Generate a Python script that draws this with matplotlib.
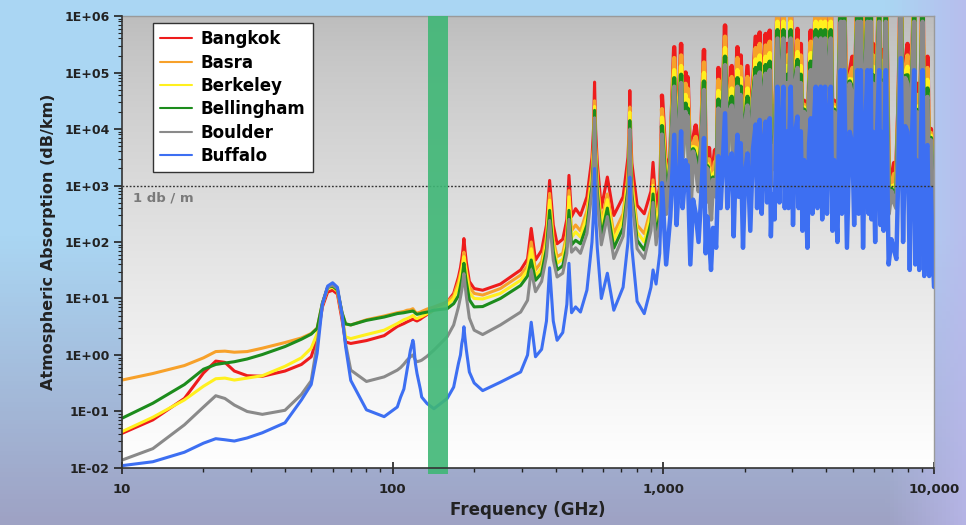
import numpy as np
import matplotlib
matplotlib.use("Agg")
import matplotlib.pyplot as plt
from matplotlib.ticker import FixedLocator, FuncFormatter, LogLocator, NullFormatter

# ---------------- data (dB/km) ----------------
cities = ["Bangkok", "Basra", "Berkeley", "Bellingham", "Boulder", "Buffalo"]
colors = ["#ee1c1c", "#f7a12a", "#fff01e", "#1c8c1c", "#8a8a8a", "#3d6ff2"]

# smooth part of the spectrum (10 - 1000 GHz)
low_freq_ghz = [10, 13, 17, 20, 22.2, 24, 26, 29, 33, 40, 46, 50, 52.6, 55, 57.5, 60, 62.5, 65, 67, 70,
                80, 93, 104, 107, 110, 113, 116.3, 118.75, 119.5, 121.3, 123, 126.5, 128, 134, 142, 159,
                168, 175, 178, 180, 181.7, 183.3, 185, 187, 192, 200, 215,
                250, 297, 315, 325, 337, 355, 370, 380, 392, 405, 425, 440, 448, 458, 474, 494, 522,
                545, 552, 557, 562, 570, 590, 621, 656, 710, 740, 746, 752, 758, 765, 800, 850, 900,
                916, 940, 970, 988]
bangkok_low = [0.041, 0.071, 0.17, 0.48, 0.78, 0.74, 0.52, 0.43, 0.42, 0.52, 0.68, 0.93, 2.0, 7.1, 13, 14, 12,
               4.2, 1.7, 1.6, 1.8, 2.2, 3.2, 3.4, 3.6, 3.85, 4.1, 4.3, 4.3, 4.1, 4.0, 4.3, 4.5, 5.2, 6.3,
               8.7, 12.3, 24, 35, 50, 71, 115, 71, 45, 20, 15, 14,
               18, 32, 50, 174, 48, 71, 200, 1230, 200, 93, 112, 251, 1510, 282, 389, 295, 631,
               3160, 10000, 67600, 10000, 2510, 398, 1410, 295, 631, 3160, 7940, 47900, 7940, 2510,
               447, 316, 794, 2570, 417, 1000, 38900]
basra_low = [0.36, 0.47, 0.65, 0.89, 1.15, 1.17, 1.12, 1.15, 1.32, 1.66, 2.0, 2.4, 3.0, 8.3, 15.8, 16.6, 14.1,
             5.6, 3.55, 3.4, 4.2, 4.9, 5.6, 5.75, 5.9, 6.2, 6.3, 6.6, 6.3, 5.75, 5.5, 5.75, 5.9, 6.5, 7.1,
             8.7, 11.2, 20, 28, 35, 48, 66, 45, 32, 16, 12.3, 11.5,
             15, 26, 38, 100, 32, 45, 126, 724, 112, 55, 63, 141, 813, 158, 200, 158, 355,
             1780, 5250, 31600, 5250, 1410, 224, 708, 141, 316, 1580, 3980, 24500, 3980, 1260,
             200, 141, 398, 1260, 224, 562, 22400]
berkeley_low = [0.044, 0.079, 0.16, 0.28, 0.38, 0.39, 0.36, 0.39, 0.43, 0.63, 0.89, 1.32, 2.4, 7.9, 15.1, 15.8,
                13.5, 5.0, 2.1, 1.95, 2.3, 2.75, 3.6, 3.9, 4.2, 4.4, 4.7, 5.0, 4.9, 4.5, 4.4, 4.7, 4.8, 5.4,
                6.2, 7.6, 10, 16.6, 24, 32, 42, 55, 40, 28, 12.6, 10, 9.8,
                12.3, 21, 32, 76, 25, 35, 100, 550, 89, 42, 50, 112, 631, 120, 151, 123,
                282, 1410, 4170, 25100, 4170, 1120, 178, 562, 107, 251, 1260, 3160, 20000, 3160, 1000,
                151, 100, 316, 1000, 178, 447, 15800]
bellingham_low = [0.076, 0.14, 0.30, 0.56, 0.68, 0.72, 0.76, 0.85, 1.02, 1.41, 1.9, 2.34, 2.95, 8.3, 15.8,
                  16.6, 14.1, 5.6, 3.55, 3.4, 4.1, 4.7, 5.4, 5.5, 5.6, 5.75, 5.9, 6.0, 5.9, 5.5, 5.25, 5.4,
                  5.5, 5.75, 6.2, 6.6, 8.1, 11.2, 16.6, 22, 30, 42, 29, 20, 9.5, 7.1, 7.2,
                  10, 17, 25, 48, 21, 28, 76, 363, 68, 32, 38, 83, 363, 89, 107, 93,
                  200, 1000, 3160, 21400, 3160, 794, 126, 398, 78, 178, 891, 2240, 14100, 2240, 708,
                  107, 72, 224, 708, 126, 316, 11200]
boulder_low = [0.0138, 0.022, 0.058, 0.12, 0.19, 0.17, 0.13, 0.10, 0.089, 0.105, 0.20, 0.35, 1.58, 7.9, 15.8,
               17.4, 14.8, 5.0, 1.58, 0.54, 0.34, 0.41, 0.54, 0.60, 0.69, 0.81, 0.93, 1.0, 0.95, 0.81, 0.76,
               0.79, 0.81, 0.95, 1.22, 2.1, 3.4, 7.1, 10.5, 14.1, 20, 27.5, 17.8, 11.2, 4.5, 2.75, 2.3,
               3.4, 5.75, 9.3, 32, 13.2, 20, 56, 240, 48, 24, 28, 63, 251, 66, 79, 63, 141,
               794, 2400, 15800, 2400, 562, 89, 282, 51, 126, 708, 1780, 10000, 1780, 562,
               76, 51, 158, 501, 89, 224, 7940]
buffalo_low = [0.011, 0.0129, 0.019, 0.0275, 0.033, 0.0316, 0.030, 0.034, 0.042, 0.063, 0.16, 0.30, 1.07, 7.9,
               16.6, 19, 15.8, 5.25, 1.41, 0.355, 0.107, 0.081, 0.12, 0.18, 0.25, 0.54, 1.22, 1.82, 1.58,
               0.71, 0.47, 0.25, 0.18, 0.138, 0.112, 0.17, 0.27, 0.71, 1.0, 1.58, 2.0, 3.16, 2.0, 1.26,
               0.50, 0.32, 0.234,
               0.33, 0.50, 1.0, 3.8, 0.93, 1.26, 4.0, 35, 4.0, 1.82, 2.5, 7.9, 42, 5.6, 7.1, 5.75, 14.1,
               100, 316, 2000, 316, 79, 10, 28, 6.2, 15.8, 100, 251, 1410, 251, 79,
               8.9, 5.4, 15.8, 32, 18, 63, 1100]

# dense water-vapour forest (1 - 10 THz): strong line tops
peak_freq_ghz = [1097, 1163, 1208, 1229, 1317, 1413, 1474, 1552, 1597, 1690,
                 1789, 1878, 1931, 2045, 2194, 2270, 2388, 2472, 2543, 2640,
                 2777, 2873, 2955, 3130, 3220, 3357, 3504, 3656, 3815, 3958,
                 4155, 4335, 4524, 4653, 4996, 5215, 5364, 5675, 5840, 5956,
                 6270, 6450, 6637, 7120, 7540, 7980, 8445, 8690, 9070, 9460, 9874]
bangkok_peaks = [2.8e5, 3.2e5, 1.0e5, 8.3e4, 1.15e4, 2.5e5, 4.6e3, 4.2e3, 1.2e5, 6.8e5,
                 1.3e5, 2.8e5, 2.0e5, 1.3e5, 4.3e5, 5.1e5, 4.8e5, 5.5e5, 2.5e4, 2.0e6,
                 2.0e6, 3.2e5, 2.0e6, 5.9e5, 3.2e5, 2.8e4, 5.5e5, 2.0e6, 2.0e6, 2.0e6,
                 2.0e6, 1.6e4, 4.0e6, 4.0e6, 1.9e5, 4.0e6, 4.0e6, 4.0e6, 4.0e6, 3.2e5,
                 4.0e6, 2.5e5, 4.0e6, 2.5e3, 6.3e6, 3.2e5, 4.0e6, 6.3e4, 4.0e6, 1.9e5, 3.2e3]
basra_peaks = [1.8e5, 2.0e5, 6.3e4, 5.2e4, 7.2e3, 1.5e5, 2.9e3, 2.6e3, 7.4e4, 4.3e5,
               8.3e4, 1.8e5, 1.26e5, 8.3e4, 2.7e5, 3.2e5, 3.0e5, 3.5e5, 1.55e4, 1.26e6,
               1.26e6, 2.0e5, 1.26e6, 3.7e5, 2.0e5, 1.8e4, 3.5e5, 1.26e6, 1.26e6, 1.26e6,
               1.26e6, 1.0e4, 2.5e6, 2.5e6, 1.2e5, 2.5e6, 2.5e6, 2.5e6, 2.5e6, 2.0e5,
               2.5e6, 1.6e5, 2.5e6, 1.6e3, 4.0e6, 2.0e5, 2.5e6, 4.0e4, 2.5e6, 1.2e5, 2.0e3]
berkeley_peaks = [1.1e5, 1.3e5, 4.0e4, 3.3e4, 4.6e3, 9.8e4, 1.8e3, 1.7e3, 4.7e4, 2.7e5,
                  5.2e4, 1.1e5, 7.9e4, 5.2e4, 1.7e5, 2.0e5, 1.9e5, 2.2e5, 9.8e3, 7.9e5,
                  7.9e5, 1.3e5, 7.9e5, 2.3e5, 1.3e5, 1.1e4, 2.2e5, 7.9e5, 7.9e5, 7.9e5,
                  7.9e5, 6.5e3, 1.6e6, 1.6e6, 7.4e4, 1.6e6, 1.6e6, 1.6e6, 1.6e6, 1.26e5,
                  1.6e6, 1.0e5, 1.6e6, 1.0e3, 2.5e6, 1.26e5, 1.6e6, 2.5e4, 1.6e6, 7.4e4, 1.26e3]
bellingham_peaks = [7.9e4, 9.1e4, 2.8e4, 2.3e4, 3.2e3, 6.9e4, 1.3e3, 1.2e3, 3.3e4, 1.9e5,
                    3.7e4, 7.9e4, 5.6e4, 3.7e4, 1.2e5, 1.45e5, 1.35e5, 1.55e5, 6.9e3, 5.6e5,
                    5.6e5, 9.1e4, 5.6e5, 1.66e5, 9.1e4, 7.9e3, 1.55e5, 5.6e5, 5.6e5, 5.6e5,
                    5.6e5, 4.6e3, 1.1e6, 1.1e6, 5.2e4, 1.1e6, 1.1e6, 1.1e6, 1.1e6, 8.9e4,
                    1.1e6, 7.1e4, 1.1e6, 710, 1.8e6, 8.9e4, 1.1e6, 1.8e4, 1.1e6, 5.2e4, 890]
boulder_peaks = [5.6e4, 6.5e4, 2.0e4, 1.7e4, 2.3e3, 4.9e4, 910, 830, 2.3e4, 1.35e5,
                 2.6e4, 5.6e4, 4.0e4, 2.6e4, 8.5e4, 1.0e5, 9.5e4, 1.1e5, 4.9e3, 4.0e5,
                 4.0e5, 6.5e4, 4.0e5, 1.2e5, 6.5e4, 5.6e3, 1.1e5, 4.0e5, 4.0e5, 4.0e5,
                 4.0e5, 3.2e3, 7.9e5, 7.9e5, 3.7e4, 7.9e5, 7.9e5, 7.9e5, 7.9e5, 6.3e4,
                 7.9e5, 5.0e4, 7.9e5, 500, 1.26e6, 6.3e4, 7.9e5, 1.26e4, 7.9e5, 3.7e4, 630]
buffalo_peaks = [7.9e3, 9.1e3, 2.8e3, 2.3e3, 320, 6.9e3, 130, 120, 3.3e3, 1.9e4,
                 3.7e3, 7.9e3, 5.6e3, 3.7e3, 1.2e4, 1.45e4, 1.35e4, 1.55e4, 690, 5.6e4,
                 5.6e4, 9.1e3, 5.6e4, 1.66e4, 9.1e3, 790, 1.55e4, 5.6e4, 5.6e4, 5.6e4,
                 5.6e4, 460, 1.1e5, 1.1e5, 5.2e3, 1.1e5, 1.1e5, 1.1e5, 1.1e5, 8.9e3,
                 1.1e5, 7.1e3, 1.1e5, 71, 1.8e5, 8.9e3, 1.1e5, 1.8e3, 1.1e5, 5.2e3, 89]

# dense forest: weaker lines lying between the strong ones
minor_freq_ghz = [1061, 1141, 1193, 1222, 1288, 1381, 1454, 1526, 1582, 1659,
                  1756, 1848, 1913, 2007, 2144, 2245, 2349, 2444, 2519, 2608,
                  2731, 2841, 2928, 3072, 3190, 3311, 3455, 3605, 3762, 3910,
                  4089, 4275, 4461, 4610, 4882, 5142, 5314, 5571, 5785, 5917,
                  6165, 6390, 6575, 6959, 7400, 7833, 8290, 8608, 8943, 9330, 9736]
bangkok_minor = [3160, 1.26e4, 1.0e4, 1.26e4, 6310, 7940, 3160, 2000, 5010, 3.16e4,
                 3.16e4, 2.0e4, 3.16e4, 2.0e4, 5.01e4, 6.31e4, 6.31e4, 6.31e4, 6310, 5.01e4,
                 1.26e5, 1.0e5, 1.26e5, 1.0e5, 1.0e5, 3.16e4, 6.31e4, 1.58e5, 1.58e5, 1.58e5,
                 1.58e5, 3.16e4, 1.26e5, 2.0e5, 1.0e5, 2.0e5, 2.0e5, 1.26e5, 2.0e5, 1.0e5,
                 1.26e5, 1.0e5, 1.26e5, 1260, 3.16e4, 1.26e5, 7.94e4, 3.16e4, 7.94e4, 5.01e4, 1.0e4]
basra_minor = [2690, 1.07e4, 8510, 1.07e4, 5370, 6760, 2690, 1700, 4270, 2.69e4,
               2.69e4, 1.7e4, 2.69e4, 1.7e4, 4.27e4, 5.37e4, 5.37e4, 5.37e4, 5370, 4.27e4,
               1.07e5, 8.51e4, 1.07e5, 8.51e4, 8.51e4, 2.69e4, 5.37e4, 1.35e5, 1.35e5, 1.35e5,
               1.35e5, 2.69e4, 1.07e5, 1.7e5, 8.51e4, 1.7e5, 1.7e5, 1.07e5, 1.7e5, 8.51e4,
               1.07e5, 8.51e4, 1.07e5, 1070, 2.69e4, 1.07e5, 6.76e4, 2.69e4, 6.76e4, 4.27e4, 8510]
berkeley_minor = [2400, 9550, 7590, 9550, 4790, 6030, 2400, 1510, 3800, 2.4e4,
                  2.4e4, 1.51e4, 2.4e4, 1.51e4, 3.8e4, 4.79e4, 4.79e4, 4.79e4, 4790, 3.8e4,
                  9.55e4, 7.59e4, 9.55e4, 7.59e4, 7.59e4, 2.4e4, 4.79e4, 1.2e5, 1.2e5, 1.2e5,
                  1.2e5, 2.4e4, 9.55e4, 1.51e5, 7.59e4, 1.51e5, 1.51e5, 9.55e4, 1.51e5, 7.59e4,
                  9.55e4, 7.59e4, 9.55e4, 955, 2.4e4, 9.55e4, 6.03e4, 2.4e4, 6.03e4, 3.8e4, 7590]
bellingham_minor = [2190, 8710, 6920, 8710, 4370, 5500, 2190, 1380, 3470, 2.19e4,
                    2.19e4, 1.38e4, 2.19e4, 1.38e4, 3.47e4, 4.37e4, 4.37e4, 4.37e4, 4370, 3.47e4,
                    8.71e4, 6.92e4, 8.71e4, 6.92e4, 6.92e4, 2.19e4, 4.37e4, 1.1e5, 1.1e5, 1.1e5,
                    1.1e5, 2.19e4, 8.71e4, 1.38e5, 6.92e4, 1.38e5, 1.38e5, 8.71e4, 1.38e5, 6.92e4,
                    8.71e4, 6.92e4, 8.71e4, 871, 2.19e4, 8.71e4, 5.5e4, 2.19e4, 5.5e4, 3.47e4, 6920]
boulder_minor = [2000, 7940, 6310, 7940, 3980, 5010, 2000, 1260, 3160, 2.0e4,
                 2.0e4, 1.26e4, 2.0e4, 1.26e4, 3.16e4, 3.98e4, 3.98e4, 3.98e4, 3980, 3.16e4,
                 7.94e4, 6.31e4, 7.94e4, 6.31e4, 6.31e4, 2.0e4, 3.98e4, 1.0e5, 1.0e5, 1.0e5,
                 1.0e5, 2.0e4, 7.94e4, 1.26e5, 6.31e4, 1.26e5, 1.26e5, 7.94e4, 1.26e5, 6.31e4,
                 7.94e4, 6.31e4, 7.94e4, 794, 2.0e4, 7.94e4, 5.01e4, 2.0e4, 5.01e4, 3.16e4, 6310]
buffalo_minor = [282, 1120, 891, 1120, 562, 708, 282, 178, 447, 2820,
                 2820, 1780, 2820, 1780, 4470, 5620, 5620, 5620, 562, 4470,
                 1.12e4, 8910, 1.12e4, 8910, 8910, 2820, 5620, 1.41e4, 1.41e4, 1.41e4,
                 1.41e4, 2820, 1.12e4, 1.78e4, 8910, 1.78e4, 1.78e4, 1.12e4, 1.78e4, 8910,
                 1.12e4, 8910, 1.12e4, 112, 2820, 1.12e4, 7080, 2820, 7080, 4470, 891]

# dense forest: troughs
valley_freq_ghz = [1024, 1119, 1178, 1215, 1258, 1349, 1433, 1500, 1567, 1628,
                   1723, 1819, 1896, 1969, 2095, 2219, 2309, 2416, 2496, 2575,
                   2686, 2809, 2900, 3013, 3160, 3266, 3406, 3555, 3709, 3863,
                   4024, 4215, 4398, 4567, 4767, 5069, 5265, 5468, 5730, 5879,
                   6061, 6330, 6512, 6798, 7260, 7687, 8135, 8527, 8817, 9200, 9598, 10000]
bangkok_valleys = [1580, 7940, 15800, 39800, 1580, 3980, 2510, 1260, 3160, 15800,
                   15800, 5010, 25100, 3160, 6310, 15800, 12600, 20000, 5010, 10000,
                   20000, 15800, 15800, 7940, 15800, 6310, 3160, 12600, 15800, 10000,
                   12600, 6310, 3980, 12600, 3160, 7940, 12600, 3160, 12600, 10000,
                   3980, 7940, 6310, 1580, 2000, 3980, 1260, 1580, 1260, 1000, 1000, 631]
basra_valleys = [1120, 5620, 11200, 28200, 1120, 2820, 1780, 891, 2240, 11200,
                 11200, 3550, 17800, 2240, 4470, 11200, 8910, 14100, 3550, 7080,
                 14100, 11200, 11200, 5620, 11200, 4470, 2240, 8910, 11200, 7080,
                 8910, 4470, 2820, 8910, 2240, 5620, 8910, 2240, 8910, 7080,
                 2820, 5620, 4470, 1120, 1410, 2820, 891, 1120, 891, 708, 708, 447]
berkeley_valleys = [794, 3980, 7940, 20000, 794, 2000, 1260, 631, 1580, 7940,
                    7940, 2510, 12600, 1580, 3160, 7940, 6310, 10000, 2510, 5010,
                    10000, 7940, 7940, 3980, 7940, 3160, 1580, 6310, 7940, 5010,
                    6310, 3160, 2000, 6310, 1580, 3980, 6310, 1580, 6310, 5010,
                    2000, 3980, 3160, 794, 1000, 2000, 631, 794, 631, 501, 501, 316]
bellingham_valleys = [562, 2820, 5620, 14100, 562, 1410, 891, 447, 1120, 5620,
                      5620, 1780, 8910, 1120, 2240, 5620, 4470, 7080, 1780, 3550,
                      7080, 5620, 5620, 2820, 5620, 2240, 1120, 4470, 5620, 3550,
                      4470, 2240, 1410, 4470, 1120, 2820, 4470, 1120, 4470, 3550,
                      1410, 2820, 2240, 562, 708, 1410, 447, 562, 447, 355, 355, 224]
boulder_valleys = [316, 1580, 3160, 7940, 316, 794, 501, 251, 631, 3160,
                   3160, 1000, 5010, 631, 1260, 3160, 2510, 3980, 1000, 2000,
                   3980, 3160, 3160, 1580, 3160, 1260, 631, 2510, 3160, 2000,
                   2510, 1260, 794, 2510, 631, 1580, 2510, 631, 2510, 2000,
                   794, 1580, 1260, 316, 398, 794, 251, 316, 251, 200, 200, 126]
buffalo_valleys = [40, 200, 398, 1000, 40, 100, 63, 32, 79, 398,
                   398, 126, 631, 79, 158, 398, 316, 501, 126, 251,
                   501, 398, 398, 200, 398, 158, 79, 316, 398, 251,
                   316, 158, 100, 316, 79, 200, 316, 79, 316, 251,
                   100, 200, 158, 40, 50, 100, 32, 40, 32, 25, 25, 16]

band_ghz = (135, 160)           # highlighted window
one_db_per_m = 1000             # dB/km
x_ticks = [10, 100, 1000, 10000]
y_ticks = [1e-2, 1e-1, 1e0, 1e1, 1e2, 1e3, 1e4, 1e5, 1e6]
forest_start_ghz = 988

series = {
    "Bangkok": (bangkok_low, bangkok_peaks, bangkok_minor, bangkok_valleys),
    "Basra": (basra_low, basra_peaks, basra_minor, basra_valleys),
    "Berkeley": (berkeley_low, berkeley_peaks, berkeley_minor, berkeley_valleys),
    "Bellingham": (bellingham_low, bellingham_peaks, bellingham_minor, bellingham_valleys),
    "Boulder": (boulder_low, boulder_peaks, boulder_minor, boulder_valleys),
    "Buffalo": (buffalo_low, buffalo_peaks, buffalo_minor, buffalo_valleys),
}

# ---------------- figure ----------------
plt.rcParams["font.family"] = ["DejaVu Sans"]
fig = plt.figure(figsize=(9.66, 5.25), dpi=100)

# figure background gradient
bg = fig.add_axes([0, 0, 1, 1], zorder=-10)
H, W = 120, 240
yy = np.linspace(0, 1, H)[:, None]
xx = np.linspace(0, 1, W)[None, :]
top_c = np.array([170, 214, 243]) / 255
bot_c = np.array([158, 162, 196]) / 255
right_c = np.array([186, 184, 236]) / 255
t = np.clip((yy - 0.45) / 0.55, 0, 1)[..., None]
base = top_c[None, None, :] * (1 - t) + bot_c[None, None, :] * t
r = np.clip((xx - 0.92) / 0.08, 0, 1)[..., None] * 0.8
img = base * (1 - r) + right_c[None, None, :] * r
bg.imshow(img, aspect="auto", extent=[0, 1, 0, 1])
bg.set_axis_off()

ax = fig.add_axes([0.1263, 0.1086, 0.8406, 0.8609])
ax.set_facecolor("none")
ax.set_xscale("log")
ax.set_yscale("log")
ax.set_xlim(10, 10000)
ax.set_ylim(1e-2, 1e6)

# plot-area gradient (gray at top to white at bottom)
gy = np.linspace(0, 1, 200)[:, None]
g = 0.74 + 0.26 * gy ** 0.8
pimg = np.dstack([g, g, g])
ax.imshow(pimg, aspect="auto", extent=[0, 1, 0, 1], transform=ax.transAxes, zorder=0)

handles = []
for name, col in zip(cities, colors):
    low, pk, mn, vl = series[name]
    f = np.concatenate([low_freq_ghz, peak_freq_ghz, minor_freq_ghz, valley_freq_ghz]).astype(float)
    v = np.concatenate([low, pk, mn, vl]).astype(float)
    order = np.argsort(f)
    f, v = f[order], v[order]
    smooth = f <= forest_start_ghz
    forest = f >= forest_start_ghz
    h, = ax.plot(f[smooth], v[smooth], color=col, lw=2.2, zorder=2, label=name,
                 solid_joinstyle="round", solid_capstyle="round")
    ax.plot(f[forest], v[forest], color=col, lw=3.2, zorder=2,
            solid_joinstyle="round", solid_capstyle="round")
    handles.append(h)

ax.axhline(one_db_per_m, color="#333333", lw=1.0, ls=(0, (1.3, 1.3)), zorder=4)
ax.text(11.0, 590, "1 db / m", color="#7a7a7a", fontsize=9.5, fontweight="bold",
        va="center", ha="left", zorder=5)

band = ax.axvspan(band_ghz[0], band_ghz[1], ymin=-0.014, ymax=1.0, color="#3fb776",
                  alpha=0.9, lw=0, zorder=5)
band.set_clip_on(False)

ax.set_xlim(10, 10000)
ax.set_ylim(1e-2, 1e6)

# ticks
ax.xaxis.set_major_locator(FixedLocator(x_ticks))
ax.xaxis.set_major_formatter(FuncFormatter(lambda v, p: f"{int(round(v)):,}"))
ax.xaxis.set_minor_locator(LogLocator(base=10, subs=np.arange(2, 10)))
ax.xaxis.set_minor_formatter(NullFormatter())
ax.yaxis.set_major_locator(FixedLocator(y_ticks))
ax.yaxis.set_major_formatter(FuncFormatter(lambda v, p: f"{v:.0E}"))
ax.yaxis.set_minor_locator(LogLocator(base=10, subs=np.arange(2, 10), numticks=20))
ax.yaxis.set_minor_formatter(NullFormatter())

ax.tick_params(axis="x", which="major", direction="inout", length=9, width=1.2, pad=6,
               labelsize=9.5, colors="#222222")
ax.tick_params(axis="x", which="minor", direction="out", length=3, width=1.0, colors="#222222")
ax.tick_params(axis="y", which="major", direction="out", length=6, width=1.2, pad=3,
               labelsize=9, colors="#222222")
ax.tick_params(axis="y", which="minor", direction="out", length=3, width=0.8, colors="#222222")
for lab in ax.get_xticklabels() + ax.get_yticklabels():
    lab.set_fontweight("bold")

for side in ["left", "bottom"]:
    ax.spines[side].set_color("#333333")
    ax.spines[side].set_linewidth(1.2)
    ax.spines[side].set_zorder(6)
for side in ["top", "right"]:
    ax.spines[side].set_color("#9a9a9a")
    ax.spines[side].set_linewidth(1.0)

ax.set_xlabel("Frequency (GHz)", fontsize=12, fontweight="bold", color="#222222", labelpad=4)
ax.set_ylabel("Atmospheric Absorption (dB/km)", fontsize=11.5, fontweight="bold",
              color="#222222", labelpad=6)

leg = ax.legend(handles=handles, loc="upper left", bbox_to_anchor=(0.038, 0.985),
                frameon=True, fancybox=False, edgecolor="#333333", facecolor="white",
                framealpha=1.0, prop={"weight": "bold", "size": 12}, handlelength=1.9,
                handletextpad=0.5, labelspacing=0.32, borderpad=0.45, borderaxespad=0)
leg.get_frame().set_linewidth(1.0)
leg.set_zorder(10)
for lh in leg.get_lines():
    lh.set_linewidth(1.5)

fig.savefig("out.png", dpi=100)
